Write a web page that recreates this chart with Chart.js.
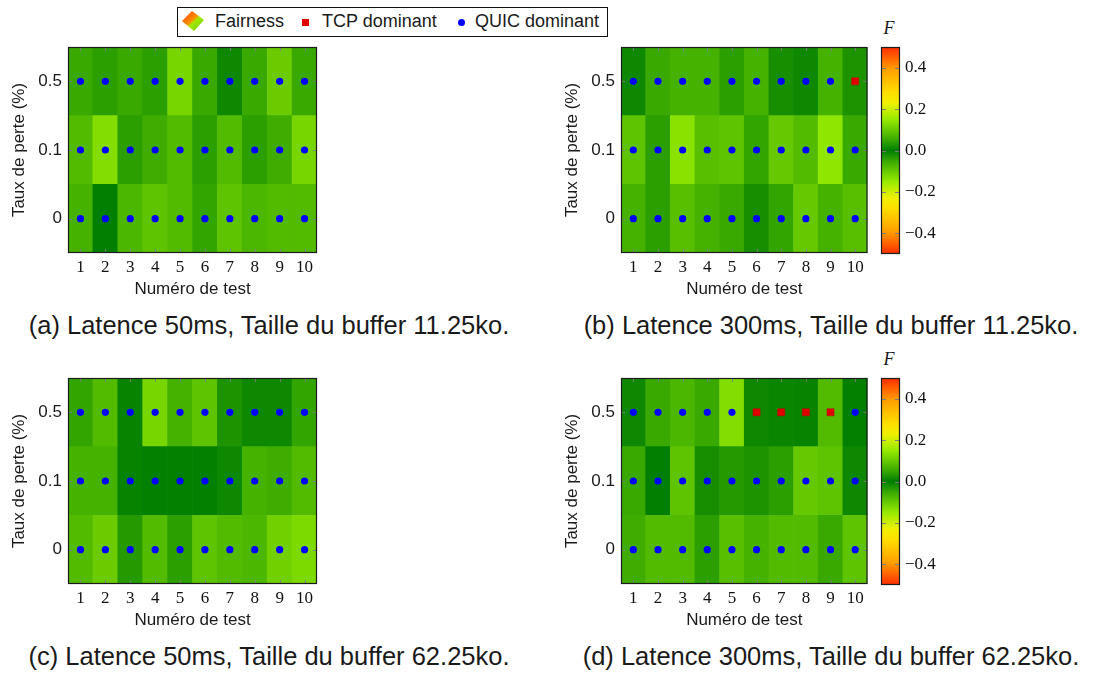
<!DOCTYPE html>
<html>
<head>
<meta charset="utf-8">
<script src="https://cdn.jsdelivr.net/npm/chart.js@4.4.1/dist/chart.umd.min.js"></script>
<style>
  html, body { margin: 0; padding: 0; background: #fff; }
  body { width: 1094px; height: 674px; position: relative; overflow: hidden;
         font-family: "Liberation Sans", Arial, sans-serif; color: #1a1a1a; }
  canvas { position: absolute; }
  .caption { position: absolute; font-size: 25.5px; white-space: nowrap; transform: translate(-50%, -50%); }
  .flabel { position: absolute; font-family: "Liberation Serif", serif; font-style: italic; font-size: 18px;
            transform: translate(-50%, -50%); }
  #legend { position: absolute; left: 177px; top: 7px; width: 429px; height: 28px; border: 1px solid #111;
            background: #fff; font-size: 18px; }
  #legend span { position: absolute; top: 3px; white-space: nowrap; }
  .mk { position: absolute; }
</style>
</head>
<body>

<div id="legend">
  <svg class="mk" style="left:3px;top:2px" width="24" height="22" viewBox="0 0 24 22">
    <defs>
      <linearGradient id="fg" x1="0" y1="0" x2="1" y2="1">
        <stop offset="0" stop-color="#ff3c00"/>
        <stop offset="0.45" stop-color="#ff8c00"/>
        <stop offset="0.55" stop-color="#a6e600"/>
        <stop offset="1" stop-color="#5fcf00"/>
      </linearGradient>
    </defs>
    <polygon points="11,1 1,11 13,21 23,10" fill="url(#fg)"/>
  </svg>
  <span style="left:37px">Fairness</span>
  <div class="mk" style="left:124px;top:11px;width:7px;height:7px;background:#e00000"></div>
  <span style="left:144px">TCP dominant</span>
  <div class="mk" style="left:280px;top:11px;width:7px;height:7px;border-radius:50%;background:#0000ff"></div>
  <span style="left:297px">QUIC dominant</span>
</div>

<canvas id="pa" width="330" height="270" style="left:0px;top:40px"></canvas>
<canvas id="pb" width="320" height="270" style="left:553px;top:40px"></canvas>
<canvas id="cb1" width="70" height="270" style="left:873px;top:40px"></canvas>
<canvas id="pc" width="330" height="270" style="left:0px;top:371px"></canvas>
<canvas id="pd" width="320" height="270" style="left:553px;top:371px"></canvas>
<canvas id="cb2" width="70" height="270" style="left:873px;top:371px"></canvas>

<div class="flabel" style="left:889px;top:28px">F</div>
<div class="flabel" style="left:889px;top:359px">F</div>

<div class="caption" style="left:269px;top:325px">(a) Latence 50ms, Taille du buffer 11.25ko.</div>
<div class="caption" style="left:831px;top:325px">(b) Latence 300ms, Taille du buffer 11.25ko.</div>
<div class="caption" style="left:269px;top:656px">(c) Latence 50ms, Taille du buffer 62.25ko.</div>
<div class="caption" style="left:831px;top:656px">(d) Latence 300ms, Taille du buffer 62.25ko.</div>

<script>
// Test numbers (columns) and loss rates (rows, bottom to top)
const testLabels = ['1', '2', '3', '4', '5', '6', '7', '8', '9', '10'];
const lossLabels = ['0', '0.1', '0.5'];
const colorbarTicks = [-0.4, -0.2, 0, 0.2, 0.4];

// Fairness index F per test; F > 0: TCP dominant, F < 0: QUIC dominant
// (a) latency 50 ms, buffer 11.25 ko
const fairA_loss0  = [-0.065, -0.002, -0.072, -0.091, -0.078, -0.046, -0.091, -0.072, -0.078, -0.078];
const fairA_loss01 = [-0.078, -0.130, -0.039, -0.058, -0.078, -0.039, -0.078, -0.039, -0.058, -0.117];
const fairA_loss05 = [-0.052, -0.039, -0.052, -0.039, -0.117, -0.052, -0.013, -0.052, -0.104, -0.052];
// (b) latency 300 ms, buffer 11.25 ko
const fairB_loss0  = [-0.065, -0.039, -0.085, -0.065, -0.052, -0.020, -0.046, -0.098, -0.065, -0.085];
const fairB_loss01 = [-0.091, -0.039, -0.137, -0.085, -0.091, -0.046, -0.098, -0.078, -0.143, -0.052];
const fairB_loss05 = [-0.013, -0.052, -0.065, -0.065, -0.039, -0.065, -0.020, -0.013, -0.065, 0.026];
// (c) latency 50 ms, buffer 62.25 ko
const fairC_loss0  = [-0.078, -0.104, -0.033, -0.078, -0.039, -0.091, -0.078, -0.072, -0.111, -0.124];
const fairC_loss01 = [-0.065, -0.065, -0.007, -0.004, -0.004, -0.003, -0.013, -0.065, -0.058, -0.078];
const fairC_loss05 = [-0.046, -0.078, -0.007, -0.117, -0.065, -0.091, -0.026, -0.013, -0.013, -0.046];
// (d) latency 300 ms, buffer 62.25 ko
const fairD_loss0  = [-0.058, -0.078, -0.078, -0.039, -0.085, -0.065, -0.078, -0.078, -0.052, -0.091];
const fairD_loss01 = [-0.052, -0.002, -0.091, -0.020, -0.033, -0.026, -0.039, -0.098, -0.091, -0.013];
const fairD_loss05 = [-0.013, -0.052, -0.072, -0.052, -0.130, 0.013, 0.009, 0.007, 0.078, -0.004];

// Symmetric colormap over |F| (0 = dark green, 0.5 = red)
const cmapStops = [
  [0.00, [0, 125, 0]],
  [0.10, [55, 168, 0]],
  [0.30, [150, 235, 0]],
  [0.46, [240, 240, 0]],
  [0.56, [255, 222, 0]],
  [0.78, [255, 160, 0]],
  [1.00, [255, 45, 0]]
];
function cmapT(t) {
  t = Math.max(0, Math.min(1, t));
  for (let i = 1; i < cmapStops.length; i++) {
    const [t1, c1] = cmapStops[i];
    const [t0, c0] = cmapStops[i - 1];
    if (t <= t1) {
      const f = (t - t0) / (t1 - t0);
      return c0.map((c, k) => Math.round(c + (c1[k] - c) * f));
    }
  }
  return cmapStops[cmapStops.length - 1][1];
}
function fairnessColor(v) {
  const c = cmapT(Math.abs(v) / 0.5);
  return `rgb(${c[0]},${c[1]},${c[2]})`;
}

// Frame and inner tick marks
const frameTicks = {
  id: 'frameTicks',
  afterDatasetsDraw(chart, args, opts) {
    const { ctx, chartArea: a, scales } = chart;
    const len = opts.len || 4;
    ctx.save();
    ctx.strokeStyle = 'rgba(125,125,125,0.95)';
    ctx.lineWidth = 1;
    const seg = (x0, y0, x1, y1) => { ctx.beginPath(); ctx.moveTo(x0, y0); ctx.lineTo(x1, y1); ctx.stroke(); };
    if (opts.xTicks) {
      scales.x.ticks.forEach((t, i) => {
        const px = Math.round(scales.x.getPixelForTick(i)) + 0.5;
        seg(px, a.top, px, a.top + len);
        seg(px, a.bottom, px, a.bottom - len);
      });
    }
    scales.y.ticks.forEach((t, i) => {
      const py = Math.round(scales.y.getPixelForTick(i)) + 0.5;
      seg(a.left, py, a.left + len, py);
      seg(a.right, py, a.right - len, py);
    });
    ctx.strokeStyle = '#1c1c1c';
    ctx.lineWidth = 1.2;
    ctx.strokeRect(a.left + 0.5, a.top + 0.5, a.width - 1, a.height - 1);
    ctx.restore();
  }
};

const sansFont = { family: '"Liberation Sans", Arial, sans-serif', size: 17 };
const serifFont = { family: '"Liberation Serif", "Times New Roman", serif', size: 17 };

// Fixed axis box sizes, no extra label overhang padding
function fixBox(size, horizontal) {
  return s => {
    if (horizontal) s.height = size; else s.width = size;
    s.paddingTop = 0; s.paddingBottom = 0; s.paddingLeft = 0; s.paddingRight = 0;
  };
}

function buildPanel(canvasId, rows, rightPad) {
  const datasets = [];
  rows.forEach((vals, r) => {
    datasets.push({
      type: 'bar',
      order: 2,
      data: vals.map(() => [r - 0.5, r + 0.5]),
      backgroundColor: vals.map(fairnessColor),
      borderWidth: 0,
      barPercentage: 1,
      categoryPercentage: 1,
      grouped: false
    });
  });
  const tcp = [], quic = [];
  rows.forEach((vals, r) => {
    vals.forEach((v, i) => {
      (v > 0 ? tcp : quic).push({ x: testLabels[i], y: r });
    });
  });
  datasets.push({ type: 'scatter', order: 0, data: quic, pointStyle: 'circle', pointRadius: 3.6,
                  backgroundColor: '#0000ff', borderColor: '#0000ff', borderWidth: 0 });
  datasets.push({ type: 'scatter', order: 0, data: tcp, pointStyle: 'rect', pointRadius: 5,
                  backgroundColor: '#e00000', borderColor: '#c00000', borderWidth: 0.5 });

  return new Chart(document.getElementById(canvasId), {
    type: 'bar',
    data: { labels: testLabels, datasets },
    plugins: [frameTicks],
    options: {
      responsive: false,
      animation: false,
      events: [],
      layout: { padding: { left: 0, top: 7, right: rightPad, bottom: 0 } },
      plugins: { legend: { display: false }, tooltip: { enabled: false },
                 frameTicks: { xTicks: true, len: 4 } },
      scales: {
        x: {
          type: 'category',
          offset: true,
          grid: { display: false, drawTicks: false },
          border: { display: false },
          ticks: { font: serifFont, color: '#111', padding: 4, maxRotation: 0, autoSkip: false },
          title: { display: true, text: 'Numéro de test', font: sansFont, color: '#1a1a1a',
                   padding: { top: 0, bottom: 10 } },
          afterFit: fixBox(57, true)
        },
        y: {
          type: 'linear',
          min: -0.5,
          max: 2.5,
          afterBuildTicks: s => { s.ticks = lossLabels.map((_, i) => ({ value: i })); },
          grid: { display: false, drawTicks: false },
          border: { display: false },
          ticks: { callback: v => lossLabels[v], font: sansFont, color: '#1a1a1a', padding: 6 },
          title: { display: true, text: 'Taux de perte (%)', font: sansFont, color: '#1a1a1a',
                   padding: { top: 9, bottom: 0 } },
          afterFit: fixBox(68, false)
        }
      }
    }
  });
}

function buildColorbar(canvasId) {
  const gradientFill = (ctx) => {
    const chart = ctx.chart;
    const ys = chart.scales.y;
    if (!chart.chartArea || !ys) return 'green';
    const yTop = ys.getPixelForValue(0.5), yBot = ys.getPixelForValue(-0.5);
    const g = chart.ctx.createLinearGradient(0, yTop, 0, yBot);
    for (let k = 0; k <= 100; k++) {
      const v = 0.5 - k / 100;
      g.addColorStop(k / 100, fairnessColor(v));
    }
    return g;
  };
  return new Chart(document.getElementById(canvasId), {
    type: 'bar',
    data: { labels: ['F'], datasets: [{ data: [[-0.5, 0.5]], backgroundColor: gradientFill,
                                        borderWidth: 0, barPercentage: 1, categoryPercentage: 1 }] },
    plugins: [frameTicks],
    options: {
      responsive: false,
      animation: false,
      events: [],
      layout: { padding: { left: 8, top: 7, right: 0, bottom: 56 } },
      plugins: { legend: { display: false }, tooltip: { enabled: false },
                 frameTicks: { xTicks: false, len: 5 } },
      scales: {
        x: { display: false, offset: true },
        y: {
          position: 'right',
          min: -0.5,
          max: 0.5,
          afterBuildTicks: s => { s.ticks = colorbarTicks.map(v => ({ value: v })); },
          grid: { display: false, drawTicks: false },
          border: { display: false },
          ticks: { callback: v => v.toFixed(1).replace('-', '\u2212'), font: serifFont,
                   color: '#111', padding: 5 },
          afterFit: fixBox(43, false)
        }
      }
    }
  });
}

buildPanel('pa', [fairA_loss0, fairA_loss01, fairA_loss05], 13);
buildPanel('pb', [fairB_loss0, fairB_loss01, fairB_loss05], 4);
buildPanel('pc', [fairC_loss0, fairC_loss01, fairC_loss05], 13);
buildPanel('pd', [fairD_loss0, fairD_loss01, fairD_loss05], 4);
buildColorbar('cb1');
buildColorbar('cb2');
</script>
</body>
</html>
